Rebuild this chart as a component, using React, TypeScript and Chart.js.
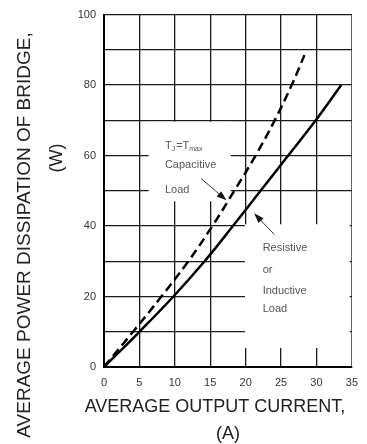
import React, { useEffect, useRef } from "react";
import { Chart, registerables } from "chart.js";

Chart.register(...registerables);

// Data
const resistiveCurrent = [0, 5, 9.8, 14.2, 18.2, 22.1, 26.0, 29.9, 33.5];
const resistivePower = [0, 10, 20, 30, 40, 50, 60, 70, 80];
const capacitiveCurrent = [0, 4.1, 8.1, 11.9, 15.3, 18.4, 21.4, 24.1, 26.5, 28.3];
const capacitivePower = [0, 10, 20, 30, 40, 50, 60, 70, 80, 88.5];

const xTitle = ["AVERAGE OUTPUT CURRENT,", "(A)"];
const yTitle = ["AVERAGE POWER DISSIPATION OF BRIDGE,", "(W)"];
const capLabel = ["Capacitive", "Load"];
const resLabel = ["Resistive", "or", "Inductive", "Load"];

const FONT = '"Liberation Sans", Arial, sans-serif';

const overlayPlugin = {
  id: "overlay",
  beforeDatasetsDraw(chart: any) {
    const ctx = chart.ctx;
    const x = chart.scales.x;
    const y = chart.scales.y;
    ctx.save();
    ctx.fillStyle = "#ffffff";
    // white label areas that interrupt the grid
    const box = (x0: number, x1: number, yTop: number, yBot: number) => {
      const l = x.getPixelForValue(x0);
      const r = x.getPixelForValue(x1);
      const t = y.getPixelForValue(yTop);
      const b = y.getPixelForValue(yBot);
      ctx.fillRect(l, t, r - l, b - t);
    };
    box(6.3, 17.9, 69.6, 47.0);
    box(19.9, 34.7, 40.5, 5.4);
    ctx.restore();
  },
  afterDraw(chart: any) {
    const ctx = chart.ctx;
    const x = chart.scales.x;
    const y = chart.scales.y;
    ctx.save();
    // Axis titles
    ctx.fillStyle = "#222";
    ctx.textAlign = "center";
    ctx.textBaseline = "middle";
    ctx.font = "18px " + FONT;
    ctx.fillText(xTitle[0], 215, 407);
    ctx.fillText(xTitle[1], 228, 434);
    ctx.font = "19px " + FONT;
    ctx.save();
    ctx.translate(25, 235);
    ctx.rotate(-Math.PI / 2);
    ctx.fillText(yTitle[0], 0, 0);
    ctx.restore();
    ctx.font = "18px " + FONT;
    ctx.save();
    ctx.translate(57, 158);
    ctx.rotate(-Math.PI / 2);
    ctx.fillText(yTitle[1], 0, 0);
    ctx.restore();

    // Annotations
    ctx.fillStyle = "#555";
    ctx.textAlign = "left";
    ctx.textBaseline = "middle";
    const px = (v: number) => x.getPixelForValue(v);
    const py = (v: number) => y.getPixelForValue(v);
    // Tj = Tmax
    let tx = px(8.6);
    const ty = py(62.8);
    ctx.font = "11px " + FONT;
    ctx.fillText("T", tx, ty);
    tx += ctx.measureText("T").width;
    ctx.font = "7px " + FONT;
    ctx.fillText("J", tx, ty + 3);
    tx += ctx.measureText("J").width + 1;
    ctx.font = "11px " + FONT;
    ctx.fillText("=T", tx, ty);
    tx += ctx.measureText("=T").width;
    ctx.font = "7px " + FONT;
    ctx.fillText("max", tx, ty + 3);

    ctx.font = "11px " + FONT;
    ctx.fillText(capLabel[0], px(8.6), py(57.2));
    ctx.fillText(capLabel[1], px(8.6), py(50.2));
    const resY = [33.9, 27.6, 21.7, 16.6];
    resLabel.forEach((t, i) => ctx.fillText(t, px(22.4), py(resY[i])));

    // Arrows
    const arrow = (x0: number, y0: number, x1: number, y1: number) => {
      const ax = px(x0), ay = py(y0), bx = px(x1), by = py(y1);
      const ang = Math.atan2(by - ay, bx - ax);
      const len = 10, wid = 3.5;
      ctx.strokeStyle = "#333";
      ctx.lineWidth = 1;
      ctx.beginPath();
      ctx.moveTo(ax, ay);
      ctx.lineTo(bx - Math.cos(ang) * len * 0.8, by - Math.sin(ang) * len * 0.8);
      ctx.stroke();
      ctx.fillStyle = "#111";
      ctx.beginPath();
      ctx.moveTo(bx, by);
      ctx.lineTo(bx - Math.cos(ang) * len - Math.sin(ang) * wid, by - Math.sin(ang) * len + Math.cos(ang) * wid);
      ctx.lineTo(bx - Math.cos(ang) * len + Math.sin(ang) * wid, by - Math.sin(ang) * len - Math.cos(ang) * wid);
      ctx.closePath();
      ctx.fill();
    };
    arrow(13.7, 53.5, 17.3, 47.3);
    arrow(24.0, 37.7, 21.2, 43.6);
    ctx.restore();
  },
};

export default function App() {
  const ref = useRef<HTMLCanvasElement | null>(null);
  useEffect(() => {
    if (!ref.current) return;
    const chart = new Chart(ref.current, {
      type: "line",
      data: {
        datasets: [
          {
            label: "Resistive or Inductive Load",
            data: resistiveCurrent.map((c, i) => ({ x: c, y: resistivePower[i] })),
            borderColor: "#000",
            borderWidth: 2.5,
            pointRadius: 0,
            tension: 0.4,
            fill: false,
          },
          {
            label: "Capacitive Load",
            data: capacitiveCurrent.map((c, i) => ({ x: c, y: capacitivePower[i] })),
            borderColor: "#000",
            borderWidth: 2.5,
            borderDash: [9, 5],
            pointRadius: 0,
            tension: 0.4,
            fill: false,
          },
        ],
      },
      options: {
        animation: false,
        responsive: true,
        maintainAspectRatio: false,
        layout: { padding: { top: 11, right: 13, left: 0, bottom: 0 } },
        plugins: { legend: { display: false }, tooltip: { enabled: false } },
        scales: {
          x: {
            type: "linear",
            min: 0,
            max: 35,
            afterFit: (s: any) => { s.height = 77; },
            ticks: {
              stepSize: 5,
              padding: 9,
              color: "#333",
              font: { size: 11, family: FONT },
              maxRotation: 0,
            },
            grid: {
              color: (c: any) => (c.tick && c.tick.value === 35 ? "#666" : "#1a1a1a"),
              lineWidth: (c: any) => (c.tick && c.tick.value === 35 ? 1 : 1.3),
              drawTicks: false,
            },
            border: { color: "#000", width: 2 },
          },
          y: {
            type: "linear",
            min: 0,
            max: 100,
            afterFit: (s: any) => { s.width = 104; },
            ticks: {
              stepSize: 10,
              padding: 8,
              color: "#333",
              font: { size: 11, family: FONT },
              callback: (v: any) => (Number(v) % 20 === 0 ? String(v) : ""),
            },
            grid: { color: "#1a1a1a", lineWidth: 1.3, drawTicks: false },
            border: { color: "#000", width: 2 },
          },
        },
      },
      plugins: [overlayPlugin],
    } as any);
    return () => chart.destroy();
  }, []);
  return (
    <div style={{ position: "absolute", left: 0, top: 0, width: 367, height: 444, background: "#fff" }}>
      <canvas ref={ref} />
    </div>
  );
}
